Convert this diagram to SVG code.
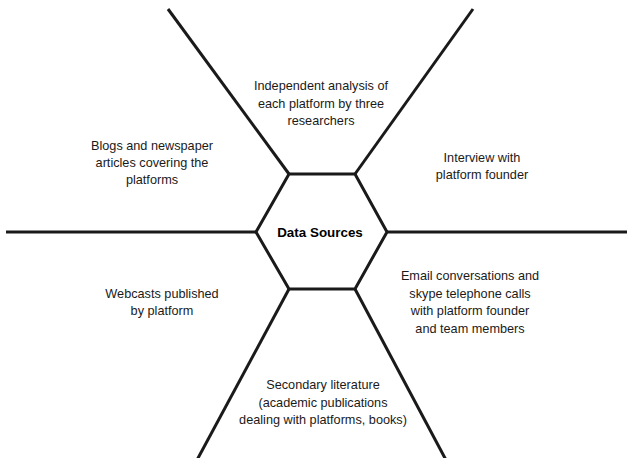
<svg xmlns="http://www.w3.org/2000/svg" width="627" height="458" viewBox="0 0 627 458">
  <style>
    .ln { stroke: #1a1a1a; stroke-width: 3; fill: none; }
    .hex { stroke: #1a1a1a; stroke-width: 3; fill: #ffffff; stroke-linejoin: miter; }
    .lbl { font-family: "Liberation Sans", Arial, sans-serif; font-size: 12.7px; fill: #1a1a1a; text-anchor: middle; }
    .title { font-family: "Liberation Sans", Arial, sans-serif; font-size: 13.4px; font-weight: bold; fill: #000000; text-anchor: middle; }
  </style>
  <rect width="627" height="458" fill="#ffffff"/>

  <!-- spokes radiating from the hexagon corners -->
  <g id="connectors">
    <line class="ln" x1="289" y1="174" x2="168" y2="9"/>
    <line class="ln" x1="355" y1="174" x2="473" y2="9"/>
    <line class="ln" x1="6" y1="232" x2="256" y2="232"/>
    <line class="ln" x1="387" y1="232" x2="627" y2="232"/>
    <line class="ln" x1="289" y1="289" x2="197" y2="460"/>
    <line class="ln" x1="355" y1="289" x2="446" y2="460"/>
  </g>

  <!-- central hexagon -->
  <g id="data-sources">
    <polygon class="hex" points="289,174 355,174 387,232 355,289 289,289 256,232"/>
    <text class="title" x="320" y="237">Data Sources</text>
  </g>

  <g id="independent-analysis">
    <text class="lbl" x="321" y="90">Independent analysis of</text>
    <text class="lbl" x="321" y="108">each platform by three</text>
    <text class="lbl" x="321" y="125">researchers</text>
  </g>

  <g id="blogs">
    <text class="lbl" x="152" y="150">Blogs and newspaper</text>
    <text class="lbl" x="152" y="167">articles covering the</text>
    <text class="lbl" x="152" y="184">platforms</text>
  </g>

  <g id="interview">
    <text class="lbl" x="482" y="162">Interview with</text>
    <text class="lbl" x="482" y="179">platform founder</text>
  </g>

  <g id="webcasts">
    <text class="lbl" x="162" y="298">Webcasts published</text>
    <text class="lbl" x="162" y="315">by platform</text>
  </g>

  <g id="email">
    <text class="lbl" x="470" y="280">Email conversations and</text>
    <text class="lbl" x="470" y="298">skype telephone calls</text>
    <text class="lbl" x="470" y="315">with platform founder</text>
    <text class="lbl" x="470" y="333">and team members</text>
  </g>

  <g id="secondary-literature">
    <text class="lbl" x="323" y="389">Secondary literature</text>
    <text class="lbl" x="323" y="407">(academic publications</text>
    <text class="lbl" x="323" y="424">dealing with platforms, books)</text>
  </g>
</svg>
